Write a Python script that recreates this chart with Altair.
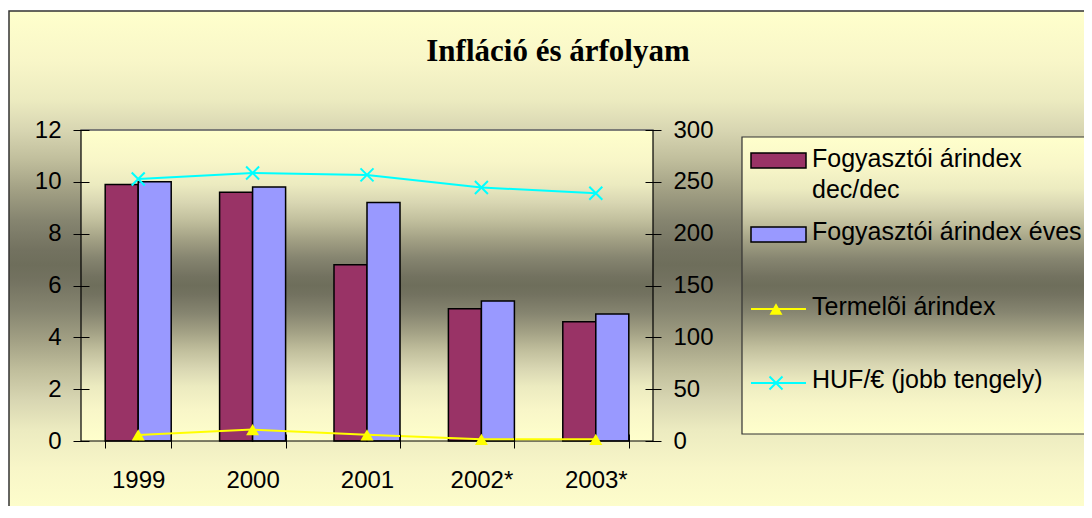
import altair as alt
import pandas as pd

# ---------------- data ----------------
years = ["1999", "2000", "2001", "2002*", "2003*"]
cpi_dec = [9.9, 9.6, 6.8, 5.1, 4.6]          # Fogyasztói árindex dec/dec (left axis)
cpi_avg = [10.0, 9.8, 9.2, 5.4, 4.9]         # Fogyasztói árindex éves (left axis)
ppi = [5.8, 11.0, 6.0, 1.6, 1.6]             # Termelõi árindex (drawn on right axis scale)
huf_eur = [252.8, 258.5, 256.7, 244.5, 239.0]  # HUF/€ (right axis)

bar_series = ["Fogyasztói árindex dec/dec", "Fogyasztói árindex éves"]
line_series = ["Termelõi árindex", "HUF/€ (jobb tengely)"]
left_ticks = [0, 2, 4, 6, 8, 10, 12]
right_ticks = [0, 50, 100, 150, 200, 250, 300]
title_text = "Infláció és árfolyam"

# ---------------- styles ----------------
bar_colors = ["#993366", "#9999FF"]
line_colors = ["#FFFF00", "#00FFFF"]
FONT = "Liberation Sans"
SERIF = "Liberation Serif"
W, H = 572, 311
X_PATH = "M-1,-1L1,1M-1,1L1,-1"


def grad():
    half = [(0.0, "#FFFFCC"), (0.1, "#F8F6C8"), (0.175, "#ECEBC0"), (0.234, "#D8D6B2"),
            (0.293, "#C0BE9C"), (0.352, "#A2A084"), (0.411, "#868570"),
            (0.47, "#737260"), (0.5, "#6E6E5B")]
    stops = half + [(round(1 - o, 3), c) for o, c in reversed(half[:-1])]
    return {"gradient": "linear", "x1": 0, "y1": 0, "x2": 0, "y2": 1,
            "stops": [{"offset": o, "color": c} for o, c in stops]}


bar_df = pd.DataFrame({
    "year": years * 2,
    "series": [bar_series[0]] * len(years) + [bar_series[1]] * len(years),
    "value": cpi_dec + cpi_avg,
})
ppi_df = pd.DataFrame({"year": years, "value": ppi})
huf_df = pd.DataFrame({"year": years, "value": huf_eur})

one = alt.Data(values=[{"k": 0}])

x_scale = alt.Scale(domain=years, paddingInner=0.423, paddingOuter=0.2115)
common_axis = dict(title=None, domain=False, grid=False, labelFont=FONT, labelFontSize=24,
                   labelColor="black", tickColor="black", tickWidth=1, zindex=2)
x_axis = alt.Axis(orient="bottom", offset=-7, tickSize=14, tickBand="extent",
                  labelAngle=0, labelPadding=20, **common_axis)
left_axis = alt.Axis(orient="left", values=left_ticks, offset=-8, tickSize=16,
                     labelPadding=12, **common_axis)
right_axis = alt.Axis(orient="right", values=right_ticks, offset=-8, tickSize=16,
                      labelPadding=12, **common_axis)


def xenc():
    return alt.X("year:N", sort=years, scale=x_scale, axis=x_axis)


# ---------------- decoration ----------------
chart_bg = alt.Chart(one).mark_rect(fill=grad(), stroke="#333333", strokeWidth=1.5).encode(
    x=alt.value(-72), x2=alt.value(1030), y=alt.value(-119), y2=alt.value(389))
plot_bg = alt.Chart(one).mark_rect(fill=grad()).encode(
    x=alt.value(0), x2=alt.value(W), y=alt.value(0), y2=alt.value(H))
legend_box = alt.Chart(one).mark_rect(fill=grad(), stroke="#333333", strokeWidth=1.2).encode(
    x=alt.value(661), x2=alt.value(1030), y=alt.value(7), y2=alt.value(304))
plot_border = alt.Chart(one).mark_rect(fillOpacity=0, stroke="black", strokeWidth=1.2).encode(
    x=alt.value(0), x2=alt.value(W), y=alt.value(0), y2=alt.value(H))
top_rule = alt.Chart(one).mark_rule(color="#808080", strokeWidth=1.5).encode(
    x=alt.value(0), x2=alt.value(W), y=alt.value(0))

# ---------------- bars (left axis) ----------------
bars = alt.Chart(bar_df).mark_bar(stroke="black", strokeWidth=1.5).encode(
    x=xenc(),
    xOffset=alt.XOffset("series:N", sort=bar_series,
                        scale=alt.Scale(domain=bar_series, paddingInner=0, paddingOuter=0)),
    y=alt.Y("value:Q", scale=alt.Scale(domain=[0, 12], nice=False, zero=True), axis=left_axis),
    fill=alt.Fill("series:N", scale=alt.Scale(domain=bar_series, range=bar_colors), legend=None),
)

# ---------------- lines (right axis) ----------------
ry = alt.Scale(domain=[0, 300], nice=False, zero=True)
ppi_line = alt.Chart(ppi_df).mark_line(color=line_colors[0], strokeWidth=2).encode(
    x=xenc(), y=alt.Y("value:Q", scale=ry, axis=right_axis))
ppi_pts = alt.Chart(ppi_df).mark_point(shape="triangle-up", filled=True, color=line_colors[0],
                                       size=169, opacity=1).encode(
    x=xenc(), y=alt.Y("value:Q", scale=ry, axis=right_axis))
huf_line = alt.Chart(huf_df).mark_line(color=line_colors[1], strokeWidth=2).encode(
    x=xenc(), y=alt.Y("value:Q", scale=ry, axis=right_axis))
huf_pts = alt.Chart(huf_df).mark_point(shape=X_PATH, filled=False, color=line_colors[1],
                                       strokeWidth=2, size=169, opacity=1).encode(
    x=xenc(), y=alt.Y("value:Q", scale=ry, axis=right_axis))
right_group = alt.layer(ppi_line, huf_line, ppi_pts, huf_pts)

# ---------------- legend (drawn) ----------------
LX0, LX1, TX = 670, 725, 731
leg_rect1 = alt.Chart(one).mark_rect(fill=bar_colors[0], stroke="black", strokeWidth=1.5).encode(
    x=alt.value(LX0), x2=alt.value(LX1), y=alt.value(23), y2=alt.value(38))
leg_rect2 = alt.Chart(one).mark_rect(fill=bar_colors[1], stroke="black", strokeWidth=1.5).encode(
    x=alt.value(LX0), x2=alt.value(LX1), y=alt.value(97), y2=alt.value(112))
leg_line3 = alt.Chart(one).mark_rule(color=line_colors[0], strokeWidth=2).encode(
    x=alt.value(LX0), x2=alt.value(LX1), y=alt.value(179))
leg_pt3 = alt.Chart(one).mark_point(shape="triangle-up", filled=True, color=line_colors[0],
                                    size=169, opacity=1).encode(
    x=alt.value(695), y=alt.value(179))
leg_line4 = alt.Chart(one).mark_rule(color=line_colors[1], strokeWidth=2).encode(
    x=alt.value(LX0), x2=alt.value(LX1), y=alt.value(253))
leg_pt4 = alt.Chart(one).mark_point(shape=X_PATH, filled=False, color=line_colors[1],
                                    strokeWidth=2, size=169, opacity=1).encode(
    x=alt.value(695), y=alt.value(253))


def leg_text(txt, y):
    return alt.Chart(one).mark_text(align="left", baseline="alphabetic", font=FONT,
                                    fontSize=25, lineHeight=31, color="black").encode(
        x=alt.value(TX), y=alt.value(y), text=alt.value(txt))


t1 = leg_text(bar_series[0].rsplit(" ", 1), 37)
t2 = leg_text(bar_series[1], 110)
t3 = leg_text(line_series[0], 185)
t4 = leg_text(line_series[1], 258)

title = alt.Chart(one).mark_text(align="center", baseline="alphabetic", font=SERIF,
                                 fontSize=31, fontWeight="bold", color="black").encode(
    x=alt.value(477), y=alt.value(-69), text=alt.value(title_text))

chart = alt.layer(
    chart_bg, plot_bg, legend_box, bars, plot_border, top_rule, right_group,
    leg_rect1, leg_rect2, leg_line3, leg_pt3, leg_line4, leg_pt4, t1, t2, t3, t4, title,
).resolve_scale(
    y="independent"
).properties(
    width=W, height=H,
    padding={"left": 73, "top": 122, "right": 431, "bottom": 65},
    autosize=alt.AutoSizeParams(type="none"),
).configure_view(stroke=None)

chart.save("out.html", embed_options={"renderer": "svg", "actions": False})
